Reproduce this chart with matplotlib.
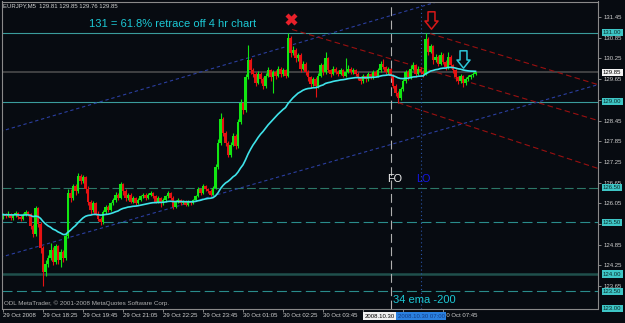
import matplotlib
matplotlib.use("Agg")
import matplotlib.pyplot as plt
from matplotlib.path import Path
import matplotlib.transforms as mtransforms

plt.rcParams['font.family'] = ['Liberation Sans', 'DejaVu Sans']

# ---------------- data (EURJPY, M5) ----------------
bar_open = [
    125.65,125.72,125.68,125.75,125.62,125.70,125.78,125.66,125.60,125.72,
    125.80,125.74,125.40,125.15,125.90,125.45,124.75,124.05,124.30,124.45,
    124.70,124.35,124.80,124.40,124.65,124.45,125.10,126.35,126.20,126.55,
    126.40,126.85,126.70,126.80,126.45,126.10,125.85,126.05,125.75,125.60,
    125.50,125.80,125.95,125.85,126.05,126.15,126.30,126.20,126.60,126.40,
    126.20,126.30,126.10,126.20,126.05,126.15,126.25,126.30,126.20,126.30,
    126.35,126.25,126.10,126.20,126.05,126.15,126.25,126.35,126.20,125.95,
    126.10,126.15,126.05,126.10,126.00,126.10,126.05,126.15,126.25,126.45,
    126.35,126.55,126.45,126.40,126.30,126.50,127.10,127.80,128.50,128.10,
    127.80,127.45,127.75,128.00,127.70,128.40,128.95,128.75,129.70,130.20,
    129.90,129.80,129.55,129.80,129.65,129.45,129.75,129.90,129.70,129.85,
    129.75,129.95,129.80,129.90,129.75,130.85,130.40,130.50,130.25,130.35,
    129.95,130.10,129.85,129.70,129.50,129.65,129.45,129.75,130.05,129.85,
    130.25,129.90,129.80,129.95,129.85,129.80,129.90,129.75,129.85,129.95,
    129.85,129.90,129.80,129.70,129.60,129.75,129.65,129.80,129.70,129.85,
    129.75,129.90,130.10,130.00,129.85,129.95,129.75,129.45,129.25,129.10,
    129.35,129.60,129.85,129.70,129.95,130.05,129.80,129.95,129.85,129.80,
    130.80,130.45,130.60,130.20,130.30,130.10,130.35,130.15,130.00,130.30,
    130.05,129.90,129.70,129.60,129.75,129.55,129.65,129.70,129.76,129.81]
bar_high = [
    125.78,125.76,125.82,125.78,125.74,125.84,125.80,125.70,125.76,125.86,
    125.84,125.78,125.45,125.96,125.93,125.50,124.82,124.40,124.55,124.90,
    124.78,124.88,124.85,124.72,124.70,125.20,126.45,126.45,126.62,126.60,
    126.94,126.90,126.88,126.85,126.55,126.15,126.12,126.10,125.82,125.66,
    125.85,126.00,126.00,126.10,126.20,126.38,126.35,126.68,126.65,126.45,
    126.36,126.34,126.26,126.24,126.20,126.30,126.36,126.34,126.35,126.42,
    126.38,126.30,126.25,126.22,126.20,126.30,126.42,126.38,126.25,126.15,
    126.20,126.18,126.15,126.14,126.14,126.13,126.18,126.30,126.52,126.50,
    126.62,126.58,126.50,126.45,126.56,127.18,127.90,128.68,128.55,128.15,
    127.85,127.82,128.10,128.05,128.48,129.06,129.00,129.80,130.65,130.25,
    129.98,129.85,129.88,129.86,129.70,129.82,130.00,129.95,129.92,129.90,
    130.02,130.00,129.96,129.95,131.00,130.90,130.60,130.55,130.42,130.40,
    130.18,130.15,129.90,129.75,129.72,129.70,129.82,130.12,130.10,130.45,
    130.30,129.95,130.02,130.00,129.90,129.96,129.94,130.27,130.05,130.00,
    129.96,129.94,129.85,129.75,129.80,129.78,129.86,129.84,129.92,129.90,
    129.96,130.18,130.22,130.04,130.00,129.98,129.80,129.50,129.30,129.42,
    129.66,129.92,129.90,130.05,130.14,130.10,130.02,130.00,129.90,131.00,
    130.86,130.68,130.65,130.38,130.34,130.45,130.40,130.20,130.45,130.35,
    130.10,129.95,129.75,129.80,129.78,129.70,129.76,129.80,129.86,129.85]
bar_low = [
    125.60,125.62,125.64,125.58,125.58,125.66,125.60,125.55,125.57,125.69,
    125.68,125.30,125.08,125.10,125.35,124.60,123.64,123.95,124.20,124.40,
    124.25,124.30,124.30,124.20,124.35,124.40,125.05,126.10,126.15,126.30,
    126.35,126.60,126.65,126.35,126.00,125.75,125.80,125.70,125.55,125.43,
    125.45,125.75,125.80,125.82,126.00,126.10,126.15,126.18,126.30,126.12,
    126.15,126.05,126.06,126.00,126.02,126.12,126.20,126.15,126.16,126.26,
    126.20,126.05,126.06,125.95,126.00,126.10,126.20,126.15,125.88,125.90,
    126.05,126.00,126.02,125.96,125.97,126.01,126.02,126.12,126.22,126.30,
    126.32,126.40,126.35,126.25,126.28,126.45,127.05,127.75,128.00,127.70,
    127.38,127.40,127.70,127.62,127.65,128.35,128.65,128.70,129.65,129.80,
    129.70,129.45,129.50,129.55,129.35,129.40,129.70,129.60,129.26,129.65,
    129.70,129.72,129.75,129.68,129.70,130.30,130.35,130.15,130.18,129.85,
    129.90,129.78,129.60,129.40,129.45,129.12,129.40,129.70,129.78,129.80,
    129.85,129.72,129.76,129.80,129.74,129.76,129.70,129.72,129.82,129.80,
    129.80,129.74,129.62,129.52,129.55,129.58,129.60,129.64,129.66,129.70,
    129.72,129.86,129.95,129.80,129.80,129.68,129.38,129.15,128.97,129.05,
    129.30,129.55,129.62,129.66,129.90,129.72,129.76,129.80,129.72,129.76,
    130.35,130.40,130.10,130.15,130.02,130.05,130.08,129.92,129.95,129.98,
    129.82,129.60,129.50,129.55,129.43,129.48,129.60,129.66,129.72,129.76]
bar_close = [
    125.72,125.68,125.75,125.62,125.70,125.78,125.66,125.60,125.72,125.80,
    125.74,125.40,125.15,125.90,125.45,124.75,124.05,124.30,124.45,124.70,
    124.35,124.80,124.40,124.65,124.45,125.10,126.35,126.20,126.55,126.40,
    126.85,126.70,126.80,126.45,126.10,125.85,126.05,125.75,125.60,125.50,
    125.80,125.95,125.85,126.05,126.15,126.30,126.20,126.60,126.40,126.20,
    126.30,126.10,126.20,126.05,126.15,126.25,126.30,126.20,126.30,126.35,
    126.25,126.10,126.20,126.05,126.15,126.25,126.35,126.20,125.95,126.10,
    126.15,126.05,126.10,126.00,126.10,126.05,126.15,126.25,126.45,126.35,
    126.55,126.45,126.40,126.30,126.50,127.10,127.80,128.50,128.10,127.80,
    127.45,127.75,128.00,127.70,128.40,128.95,128.75,129.70,130.20,129.90,
    129.80,129.55,129.80,129.65,129.45,129.75,129.90,129.70,129.85,129.75,
    129.95,129.80,129.90,129.75,130.85,130.40,130.50,130.25,130.35,129.95,
    130.10,129.85,129.70,129.50,129.65,129.45,129.75,130.05,129.85,130.25,
    129.90,129.80,129.95,129.85,129.80,129.90,129.75,129.85,129.95,129.85,
    129.90,129.80,129.70,129.60,129.75,129.65,129.80,129.70,129.85,129.75,
    129.90,130.10,130.00,129.85,129.95,129.75,129.45,129.25,129.10,129.35,
    129.60,129.85,129.70,129.95,130.05,129.80,129.95,129.85,129.80,130.80,
    130.45,130.60,130.20,130.30,130.10,130.35,130.15,130.00,130.30,130.05,
    129.90,129.70,129.60,129.75,129.55,129.65,129.70,129.76,129.81,129.85]

ema_period = 34

# horizontal levels
solid_levels = [131.00, 129.00]
thick_level = 124.00
dashed_levels = [126.50, 125.50, 123.50]
level_boxes = [131.00, 129.00, 126.50, 125.50, 124.00, 123.50, 123.00]
bid_price = 129.85

# trend lines: (bar0, bar1), (price0, price1)
blue_lines = [((-1.2, 175.0), (128.13, 131.92)),
              ((-1.2, 238.0), (124.48, 129.49))]
red_lines = [((115.6, 238.0), (131.09, 128.45)),
             ((170.8, 238.0), (130.97, 129.49)),
             ((158.0, 238.0), (128.97, 127.06))]
vline_gray = 155.2
vline_blue = 167.2

price_ticks = [131.45, 130.85, 130.25, 129.65, 129.05, 128.45, 127.85, 127.25,
               126.65, 126.05, 125.45, 124.85, 124.25, 123.65]
hidden_price_ticks = [129.05, 125.45]   # covered by the level boxes in the chart
time_tick_bars = [0, 16, 32, 48, 64, 80, 96, 112, 128, 144, 160, 176]
time_labels = ["29 Oct 2008", "29 Oct 18:25", "29 Oct 19:45", "29 Oct 21:05",
               "29 Oct 22:25", "29 Oct 23:45", "30 Oct 01:05", "30 Oct 02:25",
               "30 Oct 03:45", "30 Oct 05:05", "", "30 Oct 07:45"]
gray_time_box = "2008.10.30"
blue_time_box = "2008.10.30 07:00"

# markers
x_mark = (115.2, 131.38)
red_arrow = (171.2, 131.35)
cyan_arrow = (184.0, 130.22)

# ---------------- drawing ----------------
BG = '#070b11'
W, H = 625, 323
fig = plt.figure(figsize=(W / 100, H / 100), dpi=100, facecolor=BG)
Lp, Rp, Tp, Bp = 2, 598, 1.5, 308.5
ax = fig.add_axes([Lp / W, 1 - Bp / H, (Rp - Lp) / W, (Bp - Tp) / H], facecolor=BG)
ax.set_xlim(-0.4, 238)
ax.set_ylim(123.0, 131.9)

# horizontal lines
for lv in solid_levels:
    ax.axhline(lv, color='#3a9c9c', lw=0.8, zorder=1)
ax.axhline(thick_level, color='#1f504c', lw=1.8, zorder=1)
ax.axhline(dashed_levels[0], color='#2c7868', lw=0.8, ls=(0, (8, 3)), zorder=1)
for lv in dashed_levels[1:]:
    ax.axhline(lv, color='#2a8c8c', lw=0.8, ls=(0, (9, 4)), zorder=1)
ax.axhline(bid_price, color='#505050', lw=1.1, zorder=1)

# vertical lines
ax.axvline(vline_gray, color='#b0b0b0', lw=0.8, ls=(0, (8, 4)), zorder=1)
ax.axvline(vline_blue, color='#2a55a8', lw=0.8, ls=(0, (1, 2.5)), zorder=1)

# trend lines
for (xs_, ys_) in blue_lines:
    ax.plot(xs_, ys_, color='#2b3fa0', lw=0.8, ls=(0, (3, 2.5)), zorder=1.2)
for (xs_, ys_) in red_lines:
    ax.plot(xs_, ys_, color='#9a1010', lw=0.8, ls=(0, (5, 3)), zorder=1.2)

# candles
n = len(bar_close)
xs = list(range(n))
cols = ['#12e612' if c >= o else '#e61212' for o, c in zip(bar_open, bar_close)]
ax.vlines(xs, bar_low, bar_high, colors=cols, lw=0.8, zorder=2)
bottoms = [min(o, c) for o, c in zip(bar_open, bar_close)]
heights = [max(abs(c - o), 0.02) for o, c in zip(bar_open, bar_close)]
ax.bar(xs, heights, bottom=bottoms, width=0.82, color=cols, linewidth=0, zorder=2.1)

# EMA 34 computed from the closes
alpha = 2.0 / (ema_period + 1)
ema = [bar_close[0]]
for c in bar_close[1:]:
    ema.append(ema[-1] + alpha * (c - ema[-1]))
ax.plot(xs, ema, color='#3fe3ea', lw=1.2, zorder=3)

# markers
ax.plot([x_mark[0]], [x_mark[1]], marker='X', ms=8, color='#e8202a', mec='none', zorder=4)
arrow_verts = [(-0.4, 1), (0.4, 1), (0.4, -0.06), (0.75, -0.06), (0, -1),
               (-0.75, -0.06), (-0.4, -0.06), (-0.4, 1)]
arrow = Path(arrow_verts, [Path.MOVETO] + [Path.LINETO] * 6 + [Path.CLOSEPOLY])
ax.plot([red_arrow[0]], [red_arrow[1]], marker=arrow, ms=12.5, mfc='none',
        mec='#d81818', mew=1.1, zorder=4)
ax.plot([cyan_arrow[0]], [cyan_arrow[1]], marker=arrow, ms=12.5, mfc='none',
        mec='#2cc8d8', mew=1.1, zorder=4)

# texts
ax.text(34.4, 131.26, "131 = 61.8% retrace off 4 hr chart", color='#1cc8d4',
        fontsize=8, ha='left', va='center', zorder=5)
ax.text(156.0, 123.26, "34 ema -200", color='#1cc8d4', fontsize=8,
        ha='left', va='center', zorder=5)
ax.text(153.6, 126.75, "FO", color='#f0f0f0', fontsize=7.8, ha='left', va='center', zorder=5)
ax.text(165.2, 126.75, "LO", color='#1515e8', fontsize=7.8, ha='left', va='center', zorder=5)

fig.text(3 / W, 1 - 6 / H, "EURJPY,M5  129.81 129.85 129.76 129.85", color='#d0d0d0',
         fontsize=4.3, ha='left', va='center')
fig.text(4 / W, 1 - 303 / H, "ODL MetaTrader, \u00a9 2001-2008 MetaQuotes Software Corp.",
         color='#b0b0b0', fontsize=4.5, ha='left', va='center')

# axes styling
for sp in ax.spines.values():
    sp.set_color('#8a8a8a')
    sp.set_linewidth(0.8)
ax.yaxis.tick_right()
ax.set_yticks(price_ticks,
              labels=["" if v in hidden_price_ticks else f"{v:.2f}" for v in price_ticks])
ax.tick_params(axis='y', colors='#9a9a9a', labelcolor='#d0d0d0', labelsize=4.3,
               length=2.2, width=0.6, pad=1.6, direction='out')
ax.set_xticks(time_tick_bars, labels=time_labels)
ax.tick_params(axis='x', colors='#9a9a9a', labelcolor='#d0d0d0', labelsize=4.3,
               length=2.0, width=0.6, pad=1.2, direction='out')
for lbl in ax.get_xticklabels():
    lbl.set_ha('left')

# price boxes at the right
bt = mtransforms.blended_transform_factory(ax.transAxes, ax.transData)
xbox = (603 - Lp) / (Rp - Lp)
for lv in level_boxes:
    ax.text(xbox, lv, f"{lv:.2f}", transform=bt, fontsize=4.3, color='#0a2a2a',
            ha='left', va='center', clip_on=False, zorder=6,
            bbox=dict(boxstyle='square,pad=0.2', fc='#3ec6c6', ec='none'))
ax.text(xbox, bid_price, f"{bid_price:.2f}", transform=bt, fontsize=4.3, color='#000000',
        ha='left', va='center', clip_on=False, zorder=6,
        bbox=dict(boxstyle='square,pad=0.2', fc='#f4f4f4', ec='none'))

# time boxes at the bottom (the blue box sits right after the white one)
tt = mtransforms.blended_transform_factory(ax.transData, ax.transAxes)
ybox = -(316 - Bp) / (Bp - Tp)
ax.text(vline_gray + 1.5, ybox, gray_time_box, transform=tt, fontsize=4.3, color='#000000',
        ha='right', va='center', clip_on=False, zorder=6,
        bbox=dict(boxstyle='square,pad=0.25', fc='#f0f0f0', ec='none'))
ax.text(vline_blue, ybox, blue_time_box, transform=tt, fontsize=4.3, color='#123c86',
        ha='center', va='center', clip_on=False, zorder=7,
        bbox=dict(boxstyle='square,pad=0.2', fc='#2a80e0', ec='none'))

fig.savefig("out.png", dpi=100, facecolor=BG)
